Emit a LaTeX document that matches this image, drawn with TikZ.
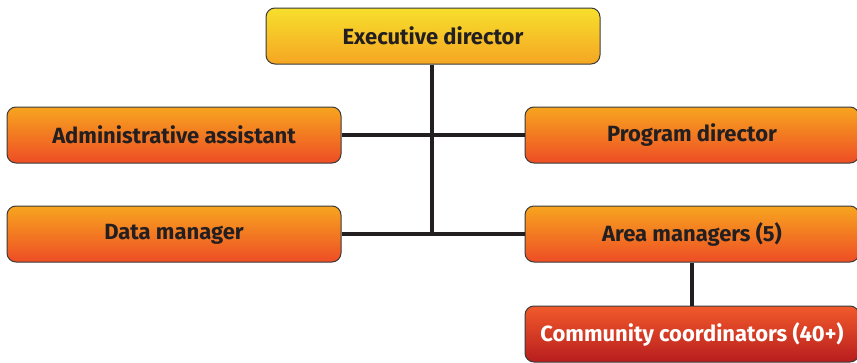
\documentclass[tikz,border=0pt]{standalone}
\usepackage{fontspec}
\setmainfont{Fira Sans}
\usepackage{tikz}

\definecolor{inkdark}{HTML}{231F20}
\definecolor{boxline}{HTML}{3A3A3A}
\definecolor{exectop}{HTML}{F7DF2C}
\definecolor{execbot}{HTML}{F5A623}
\definecolor{midtop}{HTML}{F7A51F}
\definecolor{midbot}{HTML}{EE4D25}
\definecolor{lowtop}{HTML}{F15A2B}
\definecolor{lowbot}{HTML}{B81D1E}

\begin{document}
\begin{tikzpicture}[x=1pt,y=-1pt,
    box/.style={draw=boxline, line width=1pt, rounded corners=9pt,
        minimum width=334pt, minimum height=56pt, inner sep=0pt,
        font=\fontsize{22}{24}\selectfont\bfseries, text=inkdark},
    topbox/.style={box, top color=exectop, bottom color=execbot},
    midbox/.style={box, top color=midtop, bottom color=midbot},
    lowbox/.style={box, top color=lowtop, bottom color=lowbot, text=white},
    link/.style={line width=3.4pt, draw=inkdark}]
    \useasboundingbox (0,0) rectangle (857,362);
    % Draw the boxes
    \coordinate (trunk) at (432,234);
    \node[topbox] (exec) at (433,36) {Executive director};
    \node[midbox] (admin) at (174,135) {Administrative assistant};
    \node[midbox] (program) at (692,135) {Program director};
    \node[midbox] (data) at (174,234) {Data manager};
    \node[midbox] (area) at (692,234) {Area managers (5)};
    \node[lowbox] (community) at (692,334) {Community coordinators (40+)};
    % Draw the connectors
    \draw[link] (exec.south -| trunk) -- (trunk);
    \draw[link] (admin.east) -- (program.west);
    \draw[link] (data.east) -- (area.west);
    \draw[link] (area.south) -- (community.north);
\end{tikzpicture}
\end{document}
